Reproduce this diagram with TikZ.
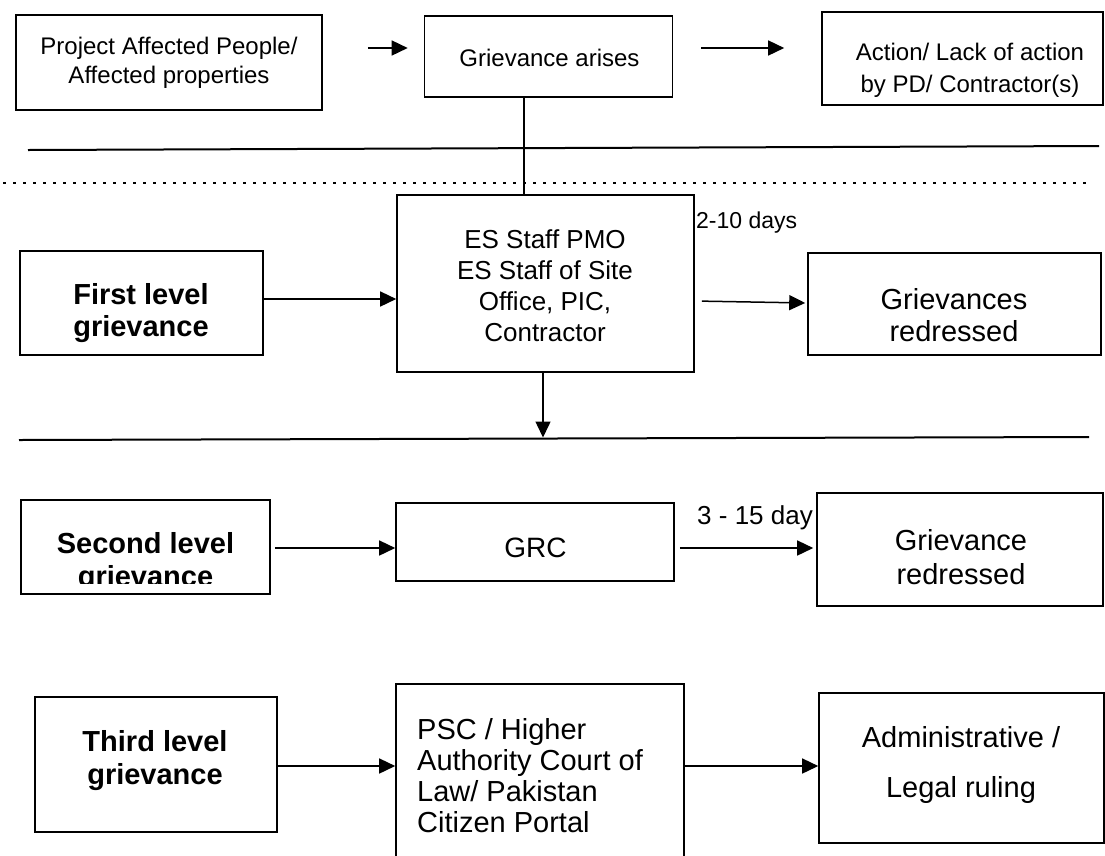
\documentclass[tikz,border=0pt]{standalone}
\usepackage{fontspec}
\setmainfont{Liberation Sans}
\usetikzlibrary{arrows.meta}
\begin{document}
\begin{tikzpicture}[x=1pt,y=-1pt,
  box/.style={draw=black, line width=1.6pt, inner sep=0pt},
  lbl/.style={inner sep=0pt, align=center},
  arr/.style={line width=1.5pt, -{Triangle[length=16pt,width=15pt]}},
  rule/.style={line width=2pt},
  dotrule/.style={line width=2.6pt, dash pattern=on 2.6pt off 7.4pt},
  small/.style={font=\fontsize{24}{29}\selectfont},
  big/.style={font=\fontsize{29}{32}\selectfont},
  bigbold/.style={font=\bfseries\fontsize{29}{32}\selectfont},
]
\fill[white] (0,0) rectangle (1105,855);
\clip (0,0) rectangle (1105,855);

% boxes
\node[box, minimum width=306pt, minimum height=95pt] (A) at (169,62.5) {};
\node[box, minimum width=248pt, minimum height=81pt] (B) at (548.5,56.5) {};
\node[box, minimum width=281pt, minimum height=93pt] (C) at (962.5,58.5) {};
\node[box, minimum width=297pt, minimum height=177pt] (ES) at (545.5,283.5) {};
\node[box, minimum width=243pt, minimum height=104pt] (L1) at (141.5,303) {};
\node[box, minimum width=293pt, minimum height=102pt] (R1) at (954.5,304) {};
\node[box, minimum width=249pt, minimum height=94pt] (L2) at (145.5,547) {};
\node[box, minimum width=278pt, minimum height=78pt] (GRC) at (535,542) {};
\node[box, minimum width=286pt, minimum height=113pt] (R2) at (960,549.5) {};
\node[box, minimum width=242pt, minimum height=135pt] (L3) at (156,764.5) {};
\node[box, minimum width=288pt, minimum height=216pt] (PSC) at (540,792) {};
\node[box, minimum width=285pt, minimum height=150pt] (ADM) at (961.5,768) {};

% texts
\node[lbl, small] (At) at (169,63) {Project Affected People/\\Affected properties};
\node[lbl, small] (Bt) at (549.5,58) {Grievance arises};
\node[lbl, font=\fontsize{24}{32}\selectfont] (Ct) at (970,70) {Action/ Lack of action\\by PD/ Contractor(s)};
\node[lbl, font=\fontsize{26}{31}\selectfont] (ESt) at (545,286) {ES Staff PMO\\ES Staff of Site\\Office, PIC,\\Contractor};
\node[lbl, bigbold] (L1t) at (141,313) {First level\\grievance};
\node[lbl, big] (R1t) at (954,315) {Grievances\\redressed};
\begin{scope}
\clip (21,500) rectangle (270,583);
\node[lbl, font=\bfseries\fontsize{29}{33}\selectfont] (L2t) at (145.5,563) {Second level\\grievance};
\end{scope}
\node[lbl, font=\fontsize{28}{32}\selectfont] (GRCt) at (535.5,548) {GRC};
\node[lbl, font=\fontsize{29}{34}\selectfont] (R2t) at (961,557) {Grievance\\redressed};
\node[lbl, font=\bfseries\fontsize{29}{33}\selectfont] (L3t) at (155,761) {Third level\\grievance};
\node[inner sep=0pt, align=left, anchor=west, font=\fontsize{29}{31}\selectfont] (PSCt) at (417,776) {PSC / Higher\\Authority Court of\\Law/ Pakistan\\Citizen Portal};
\node[lbl, font=\fontsize{29}{50}\selectfont] (ADMt) at (961,765) {Administrative /\\Legal ruling};

% labels
\node[inner sep=0pt, anchor=west, font=\fontsize{23}{28}\selectfont] (d1) at (696,223) {2-10 days};
\node[inner sep=0pt, anchor=west, font=\fontsize{26}{30}\selectfont] (d2) at (697,518) {3 - 15 day};

% rules
\draw[rule] (28,150) -- (1099,146);
\draw[dotrule] (3,183) -- (1091,183);
\draw[rule] (19,440) -- (1089,437);
\coordinate (drop) at (543,437.5);

% connectors
\draw[arr, shorten <=45pt, shorten >=16pt] (A.east |- 0,48) -- (B.west |- 0,48);
\draw[arr, shorten <=28pt, shorten >=37pt] (B.east |- 0,48) -- (C.west |- 0,48);
\draw[line width=1.5pt] (B.south -| 524,0) -- (ES.north -| 524,0);
\draw[arr] (L1.east |- 0,299) -- (ES.west |- 0,299);
\draw[arr, shorten <=7pt, shorten >=2pt] (ES.east |- 0,301) -- (R1.west |- 0,303);
\draw[arr] (ES.south -| drop) -- (drop);
\draw[arr, shorten <=4pt] (L2.east |- 0,548) -- (GRC.west |- 0,548);
\draw[arr, shorten <=5pt, shorten >=3pt] (GRC.east |- 0,548) -- (R2.west |- 0,548);
\draw[arr] (L3.east |- 0,766) -- (PSC.west |- 0,766);
\draw[arr] (PSC.east |- 0,766) -- (ADM.west |- 0,766);
\end{tikzpicture}
\end{document}
